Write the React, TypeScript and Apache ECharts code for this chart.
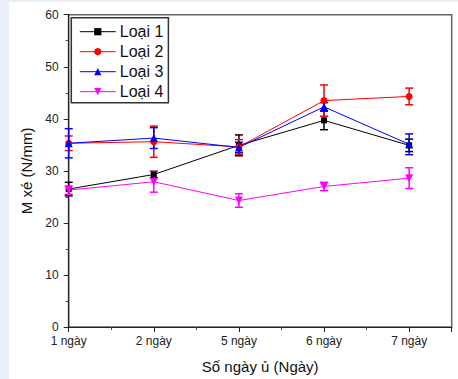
import React, { useEffect, useRef } from "react";
import * as echarts from "echarts";

const categories = ["1 ngày", "2 ngày", "5 ngày", "6 ngày", "7 ngày"];
const seriesNames = ["Loại 1", "Loại 2", "Loại 3", "Loại 4"];
const loai1 = [26.5, 29.3, 34.9, 39.7, 34.9];
const err1 = [1.3, 0.6, 2.0, 1.8, 1.2];
const loai2 = [35.3, 35.6, 34.6, 43.5, 44.3];
const err2 = [1.4, 3.0, 1.4, 3.0, 1.6];
const loai3 = [35.3, 36.3, 34.5, 42.3, 35.1];
const err3 = [2.8, 2.0, 1.0, 0.8, 2.0];
const loai4 = [26.3, 27.9, 24.3, 27.0, 28.6];
const err4 = [0.8, 2.0, 1.3, 0.8, 2.0];
const yTicks = [0, 10, 20, 30, 40, 50, 60];

const colors = ["#000000", "#ff0000", "#0000ff", "#ff00ff"];
const symbols = ["rect", "circle", "triangle", "path://M0,0 L10,0 L5,9 Z"];
const symbolSizes = [6, 7, 8, 8];

export default function App() {
  const ref = useRef<HTMLDivElement>(null);
  useEffect(() => {
    if (!ref.current) return;
    const chart = echarts.init(ref.current, undefined, { renderer: "svg" });
    const values = [loai1, loai2, loai3, loai4];
    const errs = [err1, err2, err3, err4];
    const font = "'Liberation Sans', Arial, sans-serif";

    const lineSeries = values.map((vals, s) => ({
      name: seriesNames[s],
      type: "line",
      data: vals.map((v, i) => [i, v]),
      symbol: symbols[s],
      symbolSize: symbolSizes[s],
      itemStyle: { color: colors[s] },
      lineStyle: { color: colors[s], width: 1 },
      z: 5,
    }));

    const errSeries = values.map((vals, s) => ({
      name: seriesNames[s] + " err",
      type: "custom",
      data: vals.map((v, i) => [i, v - errs[s][i], v + errs[s][i]]),
      z: 4,
      renderItem: (params: any, api: any) => {
        const x = api.value(0);
        const lo = api.coord([x, api.value(1)]);
        const hi = api.coord([x, api.value(2)]);
        const w = 4;
        const style = { stroke: colors[s], lineWidth: 1.5 };
        return {
          type: "group",
          children: [
            { type: "line", shape: { x1: hi[0], y1: hi[1], x2: lo[0], y2: lo[1] }, style },
            { type: "line", shape: { x1: hi[0] - w, y1: hi[1], x2: hi[0] + w, y2: hi[1] }, style },
            { type: "line", shape: { x1: lo[0] - w, y1: lo[1], x2: lo[0] + w, y2: lo[1] }, style },
          ],
        };
      },
    }));

    chart.setOption({
      animation: false,
      backgroundColor: "#e9eef8",
      textStyle: { fontFamily: font },
      graphic: [
        {
          type: "rect",
          z: -10,
          silent: true,
          shape: { x: 9, y: 2, width: 449, height: 377 },
          style: { fill: "#ffffff" },
        },
      ],
      grid: {
        left: 68.7,
        right: 6.3,
        top: 14.7,
        bottom: 50.7,
        show: true,
        borderColor: "#666666",
        borderWidth: 1.5,
        backgroundColor: "transparent",
      },
      legend: {
        orient: "vertical",
        left: 71.3,
        top: 17.7,
        data: seriesNames,
        itemWidth: 36,
        itemHeight: 9,
        itemGap: 4,
        padding: [6, 5, 3, 8],
        borderColor: "#333333",
        borderWidth: 1.5,
        lineStyle: { width: 1 },
        textStyle: { fontSize: 16, color: "#111", fontFamily: font, padding: [0, 0, 0, -1] },
      },
      xAxis: {
        type: "value",
        min: 0,
        max: 4.5,
        interval: 1,
        name: "Số ngày ủ (Ngày)",
        nameLocation: "middle",
        nameGap: 32,
        nameTextStyle: { fontSize: 15, color: "#111", fontFamily: font },
        axisLine: { show: true, lineStyle: { color: "#222", width: 1.2 } },
        axisTick: { show: true, length: 5, lineStyle: { color: "#222" } },
        minorTick: { show: true, splitNumber: 2, length: 3, lineStyle: { color: "#444" } },
        splitLine: { show: false },
        axisLabel: {
          fontSize: 12,
          color: "#222",
          margin: 8,
          formatter: (v: number) => (Number.isInteger(v) && categories[v] !== undefined ? categories[v] : ""),
        },
      },
      yAxis: {
        type: "value",
        min: yTicks[0],
        max: yTicks[yTicks.length - 1],
        interval: 10,
        name: "M xé (N/mm)",
        nameLocation: "middle",
        nameGap: 35,
        nameTextStyle: { fontSize: 15, color: "#111", fontFamily: font },
        axisLine: { show: true, lineStyle: { color: "#222", width: 1.2 } },
        axisTick: { show: true, length: 5, lineStyle: { color: "#222" } },
        minorTick: { show: true, splitNumber: 2, length: 3, lineStyle: { color: "#444" } },
        splitLine: { show: false },
        axisLabel: { fontSize: 12, color: "#222", margin: 10 },
      },
      series: [...errSeries, ...lineSeries],
    });
    return () => chart.dispose();
  }, []);
  return (
    <div style={{ position: "fixed", left: 0, top: 0, width: 458, height: 379 }}>
      <div ref={ref} style={{ width: 458, height: 379 }} />
    </div>
  );
}
